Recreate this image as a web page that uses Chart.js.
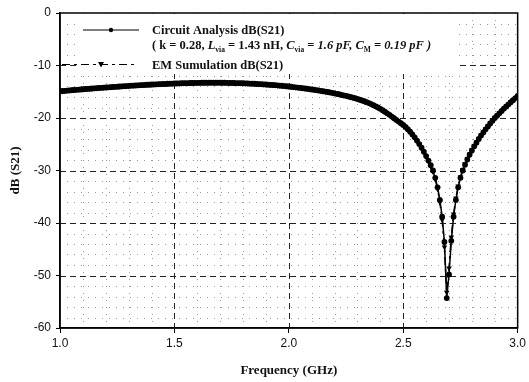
<!DOCTYPE html>
<html>
<head>
<meta charset="utf-8">
<script src="https://cdn.jsdelivr.net/npm/chart.js@4.4.1/dist/chart.umd.min.js"></script>
<style>
  html, body { margin: 0; padding: 0; background: #fff; }
  #wrap { width: 529px; height: 382px; }
</style>
</head>
<body>
<div id="wrap"><canvas id="s21Chart" width="529" height="382"></canvas></div>
<script>
// frequency sweep (GHz)
const freqGHz = [
  1.00,1.01,1.02,1.03,1.04,1.05,1.06,1.07,1.08,1.09,
  1.10,1.11,1.12,1.13,1.14,1.15,1.16,1.17,1.18,1.19,
  1.20,1.21,1.22,1.23,1.24,1.25,1.26,1.27,1.28,1.29,
  1.30,1.31,1.32,1.33,1.34,1.35,1.36,1.37,1.38,1.39,
  1.40,1.41,1.42,1.43,1.44,1.45,1.46,1.47,1.48,1.49,
  1.50,1.51,1.52,1.53,1.54,1.55,1.56,1.57,1.58,1.59,
  1.60,1.61,1.62,1.63,1.64,1.65,1.66,1.67,1.68,1.69,
  1.70,1.71,1.72,1.73,1.74,1.75,1.76,1.77,1.78,1.79,
  1.80,1.81,1.82,1.83,1.84,1.85,1.86,1.87,1.88,1.89,
  1.90,1.91,1.92,1.93,1.94,1.95,1.96,1.97,1.98,1.99,
  2.00,2.01,2.02,2.03,2.04,2.05,2.06,2.07,2.08,2.09,
  2.10,2.11,2.12,2.13,2.14,2.15,2.16,2.17,2.18,2.19,
  2.20,2.21,2.22,2.23,2.24,2.25,2.26,2.27,2.28,2.29,
  2.30,2.31,2.32,2.33,2.34,2.35,2.36,2.37,2.38,2.39,
  2.40,2.41,2.42,2.43,2.44,2.45,2.46,2.47,2.48,2.49,
  2.50,2.51,2.52,2.53,2.54,2.55,2.56,2.57,2.58,2.59,
  2.60,2.61,2.62,2.63,2.64,2.65,2.66,2.67,2.68,2.69,
  2.70,2.71,2.72,2.73,2.74,2.75,2.76,2.77,2.78,2.79,
  2.80,2.81,2.82,2.83,2.84,2.85,2.86,2.87,2.88,2.89,
  2.90,2.91,2.92,2.93,2.94,2.95,2.96,2.97,2.98,2.99,3.00
];

// Circuit Analysis dB(S21)
const circuitDb = [
  -14.90,-14.86,-14.82,-14.78,-14.74,-14.70,-14.67,-14.63,-14.59,-14.56,
  -14.52,-14.48,-14.45,-14.41,-14.38,-14.35,-14.31,-14.28,-14.25,-14.21,
  -14.18,-14.15,-14.12,-14.09,-14.06,-14.03,-14.00,-13.97,-13.94,-13.91,
  -13.88,-13.85,-13.83,-13.80,-13.77,-13.75,-13.72,-13.70,-13.67,-13.65,
  -13.62,-13.60,-13.58,-13.56,-13.54,-13.52,-13.50,-13.48,-13.46,-13.44,
  -13.42,-13.41,-13.39,-13.38,-13.37,-13.36,-13.34,-13.33,-13.32,-13.31,
  -13.30,-13.30,-13.29,-13.29,-13.28,-13.28,-13.28,-13.28,-13.28,-13.28,
  -13.28,-13.29,-13.29,-13.30,-13.31,-13.32,-13.33,-13.34,-13.35,-13.37,
  -13.38,-13.40,-13.42,-13.44,-13.46,-13.48,-13.51,-13.53,-13.56,-13.59,
  -13.62,-13.65,-13.68,-13.71,-13.75,-13.78,-13.82,-13.86,-13.91,-13.95,
  -14.00,-14.05,-14.10,-14.15,-14.20,-14.26,-14.31,-14.37,-14.43,-14.49,
  -14.55,-14.62,-14.68,-14.75,-14.82,-14.90,-14.97,-15.05,-15.13,-15.21,
  -15.30,-15.39,-15.48,-15.58,-15.68,-15.78,-15.89,-16.00,-16.11,-16.23,
  -16.36,-16.50,-16.65,-16.81,-16.98,-17.16,-17.35,-17.55,-17.77,-18.00,
  -18.25,-18.52,-18.80,-19.10,-19.40,-19.72,-20.04,-20.36,-20.68,-21.00,
  -21.32,-21.70,-22.12,-22.60,-23.12,-23.68,-24.30,-24.96,-25.66,-26.42,
  -27.25,-28.10,-29.00,-30.00,-31.40,-33.20,-35.60,-38.80,-43.60,-54.30,
  -49.80,-43.40,-38.80,-35.60,-33.20,-31.40,-30.00,-28.90,-27.90,-27.00,
  -26.20,-25.40,-24.70,-24.00,-23.35,-22.75,-22.15,-21.60,-21.05,-20.50,
  -20.00,-19.55,-19.10,-18.65,-18.20,-17.80,-17.40,-17.00,-16.60,-16.20,-15.80
];

// EM Sumulation dB(S21)
const emDb = [
  -14.95,-14.90,-14.86,-14.81,-14.77,-14.73,-14.69,-14.65,-14.61,-14.57,
  -14.53,-14.50,-14.46,-14.43,-14.39,-14.36,-14.32,-14.29,-14.26,-14.23,
  -14.20,-14.17,-14.14,-14.11,-14.08,-14.05,-14.02,-13.99,-13.96,-13.93,
  -13.90,-13.87,-13.84,-13.81,-13.78,-13.76,-13.73,-13.71,-13.68,-13.66,
  -13.63,-13.61,-13.59,-13.57,-13.55,-13.53,-13.51,-13.49,-13.47,-13.45,
  -13.43,-13.42,-13.40,-13.39,-13.38,-13.36,-13.35,-13.34,-13.33,-13.32,
  -13.31,-13.31,-13.30,-13.30,-13.30,-13.29,-13.29,-13.29,-13.29,-13.29,
  -13.30,-13.30,-13.31,-13.31,-13.32,-13.33,-13.34,-13.35,-13.37,-13.38,
  -13.40,-13.42,-13.44,-13.46,-13.48,-13.50,-13.53,-13.55,-13.58,-13.61,
  -13.64,-13.67,-13.70,-13.74,-13.77,-13.81,-13.85,-13.89,-13.93,-13.98,
  -14.02,-14.07,-14.12,-14.17,-14.23,-14.28,-14.34,-14.40,-14.46,-14.52,
  -14.58,-14.65,-14.71,-14.78,-14.85,-14.93,-15.00,-15.08,-15.16,-15.25,
  -15.33,-15.42,-15.52,-15.61,-15.71,-15.82,-15.93,-16.04,-16.16,-16.28,
  -16.41,-16.55,-16.70,-16.86,-17.03,-17.21,-17.41,-17.62,-17.84,-18.07,
  -18.31,-18.58,-18.86,-19.16,-19.46,-19.78,-20.10,-20.42,-20.74,-21.06,
  -21.40,-21.78,-22.20,-22.68,-23.20,-23.76,-24.38,-25.04,-25.76,-26.54,
  -27.40,-28.28,-29.20,-30.25,-31.70,-33.55,-36.05,-39.40,-44.60,-53.20,
  -48.60,-42.70,-38.30,-35.25,-32.95,-31.20,-29.82,-28.74,-27.76,-26.88,
  -26.08,-25.30,-24.60,-23.92,-23.28,-22.68,-22.10,-21.55,-21.00,-20.46,
  -19.96,-19.50,-19.06,-18.62,-18.18,-17.77,-17.37,-16.97,-16.57,-16.17,-15.76
];

const seriesNames = ['Circuit Analysis dB(S21)', 'EM Sumulation dB(S21)'];
const xTitle = 'Frequency (GHz)';
const yTitle = 'dB (S21)';

const SERIF = '"Liberation Serif", "Times New Roman", serif';
const SANS = '"Liberation Sans", Arial, sans-serif';

function toPoints(xs, ys) {
    return xs.map((x, i) => ({ x: x, y: ys[i] }));
}

// dashed major / dotted minor grid drawn under the curves
const gridPlugin = {
    id: 'excelGrid',
    beforeDatasetsDraw(chart) {
        const { ctx, chartArea: a, scales: { x, y } } = chart;
        ctx.save();
        ctx.beginPath();
        ctx.rect(a.left, a.top, a.right - a.left, a.bottom - a.top);
        ctx.clip();

        // minor dotted lines
        ctx.strokeStyle = '#9a9a9a';
        ctx.lineWidth = 1;
        ctx.setLineDash([1, 6]);
        for (let k = 11; k < 30; k++) {
            if (k % 5 === 0) continue;
            const px = Math.round(x.getPixelForValue(k / 10)) + 0.5;
            ctx.beginPath(); ctx.moveTo(px, a.top); ctx.lineTo(px, a.bottom); ctx.stroke();
        }
        for (let v = -58; v < 0; v += 2) {
            if (v % 10 === 0) continue;
            const py = Math.round(y.getPixelForValue(v)) + 0.5;
            ctx.beginPath(); ctx.moveTo(a.left, py); ctx.lineTo(a.right, py); ctx.stroke();
        }

        // major dashed lines
        ctx.strokeStyle = '#222';
        ctx.setLineDash([6, 4]);
        [1.5, 2.0, 2.5].forEach(v => {
            const px = Math.round(x.getPixelForValue(v)) + 0.5;
            ctx.beginPath(); ctx.moveTo(px, a.top); ctx.lineTo(px, a.bottom); ctx.stroke();
        });
        [-10, -20, -30, -40, -50].forEach(v => {
            const py = Math.round(y.getPixelForValue(v)) + 0.5;
            ctx.beginPath(); ctx.moveTo(a.left, py); ctx.lineTo(a.right, py); ctx.stroke();
        });
        ctx.restore();
    }
};

// draw a run of text pieces with mixed fonts / subscripts
function drawRuns(ctx, x, y, runs) {
    runs.forEach(r => {
        ctx.font = r.font;
        ctx.fillText(r.t, x, y + (r.dy || 0));
        x += ctx.measureText(r.t).width;
    });
}

const legendPlugin = {
    id: 'boxLegend',
    afterDatasetsDraw(chart) {
        const { ctx, chartArea: a } = chart;
        ctx.save();
        ctx.fillStyle = '#fff';
        ctx.fillRect(a.left + 16, a.top + 1, 380, 60);

        // circuit sample: solid line with dot
        ctx.strokeStyle = '#000';
        ctx.lineWidth = 1.2;
        ctx.setLineDash([]);
        ctx.beginPath(); ctx.moveTo(a.left + 23, a.top + 17); ctx.lineTo(a.left + 79, a.top + 17); ctx.stroke();
        ctx.fillStyle = '#000';
        ctx.beginPath(); ctx.arc(a.left + 51, a.top + 17, 2.2, 0, Math.PI * 2); ctx.fill();

        // EM sample: dashed line with down triangle
        ctx.setLineDash([8, 4, 3, 4]);
        ctx.beginPath(); ctx.moveTo(a.left + 2, a.top + 51.5); ctx.lineTo(a.left + 75, a.top + 51.5); ctx.stroke();
        ctx.setLineDash([]);
        const tx = a.left + 41, ty = a.top + 51.5;
        ctx.beginPath(); ctx.moveTo(tx - 3, ty - 2.5); ctx.lineTo(tx + 3, ty - 2.5); ctx.lineTo(tx, ty + 3); ctx.closePath(); ctx.fill();

        const bold = 'bold 12.5px ' + SERIF;
        const boldIt = 'italic bold 12.5px ' + SERIF;
        const sub = 'bold 7.5px ' + SERIF;
        ctx.fillStyle = '#111';
        ctx.textBaseline = 'alphabetic';
        const lx = a.left + 92;
        drawRuns(ctx, lx, a.top + 21, [{ t: seriesNames[0], font: bold }]);
        drawRuns(ctx, lx, a.top + 36, [
            { t: '( k = 0.28, ', font: bold },
            { t: 'L', font: boldIt },
            { t: 'via', font: sub, dy: 3 },
            { t: ' = 1.43 nH, ', font: bold },
            { t: 'C', font: boldIt },
            { t: 'via', font: sub, dy: 3 },
            { t: ' = ', font: bold },
            { t: '1.6 pF, C', font: boldIt },
            { t: 'M', font: sub, dy: 3 },
            { t: ' = 0.19 pF )', font: boldIt }
        ]);
        drawRuns(ctx, lx, a.top + 56, [{ t: seriesNames[1], font: bold }]);
        ctx.restore();
    },
    afterDraw(chart) {
        const { ctx, chartArea: a } = chart;
        ctx.save();
        ctx.strokeStyle = '#000';
        ctx.lineWidth = 1.5;
        ctx.strokeRect(a.left, a.top, a.right - a.left, a.bottom - a.top);
        ctx.restore();
    }
};

const ctx = document.getElementById('s21Chart');
new Chart(ctx, {
    type: 'line',
    data: {
        datasets: [
            {
                label: seriesNames[1],
                data: toPoints(freqGHz, emDb),
                borderColor: '#000',
                backgroundColor: '#000',
                borderWidth: 1.5,
                borderDash: [8, 4, 3, 4],
                pointStyle: 'triangle',
                rotation: 180,
                pointRadius: 3.2,
                pointBorderWidth: 0,
                fill: false,
                tension: 0
            },
            {
                label: seriesNames[0],
                data: toPoints(freqGHz, circuitDb),
                borderColor: '#000',
                backgroundColor: '#000',
                borderWidth: 1.5,
                pointStyle: 'circle',
                pointRadius: 2.9,
                pointBorderWidth: 0,
                fill: false,
                tension: 0
            }
        ]
    },
    options: {
        responsive: false,
        animation: false,
        devicePixelRatio: 1,
        layout: { padding: { top: 13, right: 11, left: 0, bottom: 0 } },
        plugins: {
            legend: { display: false },
            tooltip: { enabled: false }
        },
        scales: {
            x: {
                type: 'linear',
                min: 1,
                max: 3,
                ticks: {
                    stepSize: 0.5,
                    color: '#111',
                    padding: 3,
                    font: { family: SANS, size: 12 },
                    callback: v => v.toFixed(1)
                },
                grid: { drawOnChartArea: false, drawTicks: true, tickLength: 5, color: '#000' },
                border: { color: '#000', width: 1.5 },
                title: {
                    display: true,
                    text: xTitle,
                    color: '#111',
                    font: { family: SERIF, size: 13, weight: 'bold' },
                    padding: { top: 6, bottom: 4 }
                },
                afterFit: s => { s.height = 54; }
            },
            y: {
                type: 'linear',
                min: -60,
                max: 0,
                ticks: {
                    stepSize: 10,
                    color: '#111',
                    padding: 5,
                    font: { family: SANS, size: 12 }
                },
                grid: { drawOnChartArea: false, drawTicks: true, tickLength: 4, color: '#000' },
                border: { color: '#000', width: 1.5 },
                title: {
                    display: true,
                    text: yTitle,
                    color: '#111',
                    font: { family: SERIF, size: 13, weight: 'bold' },
                    padding: { top: 8, bottom: 0 }
                },
                afterFit: s => { s.width = 60; }
            }
        }
    },
    plugins: [gridPlugin, legendPlugin]
});
</script>
</body>
</html>
